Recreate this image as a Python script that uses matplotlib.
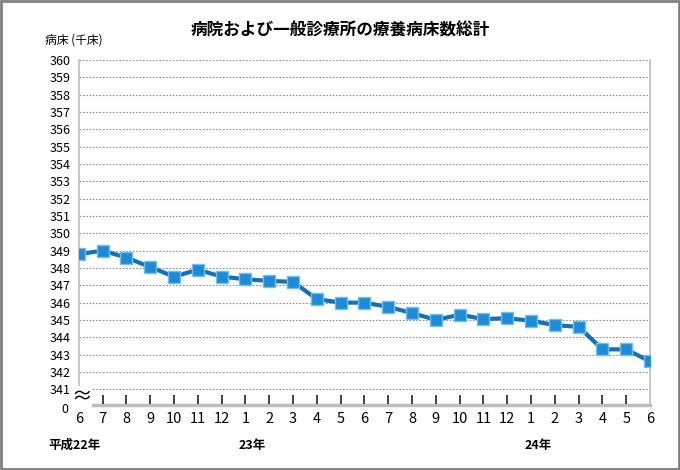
import numpy as np
import matplotlib.pyplot as plt
from matplotlib.patches import Rectangle

plt.rcParams['font.family'] = ['Noto Sans CJK JP', 'DejaVu Sans']

months = ['6', '7', '8', '9', '10', '11', '12', '1', '2', '3', '4', '5',
          '6', '7', '8', '9', '10', '11', '12', '1', '2', '3', '4', '5', '6']
beds = [348.8, 349.0, 348.6, 348.05, 347.5, 347.9, 347.5, 347.35, 347.25, 347.2,
        346.2, 346.0, 346.0, 345.75, 345.4, 345.0, 345.3, 345.05, 345.1, 344.95,
        344.7, 344.6, 343.3, 343.3, 342.6]
year_labels = ['平成22年', '23年', '24年']
year_pos = [-0.2, 7.3, 19.3]
yticks = list(range(341, 361))

fig = plt.figure(figsize=(6.8, 4.7), dpi=100)
ax = fig.add_axes([0.116, 0.138, 0.84, 0.734])

x = np.arange(len(beds))
ax.plot(x, beds, color='#1670b8', lw=3, zorder=3)
ax.plot(x, beds, 's', ms=8.5, mfc='#1e8bd8', mec='#6fc0ee', mew=1, zorder=4)

ax.set_xlim(0, len(beds) - 1)
ax.set_ylim(340.08, 360)
ax.set_yticks(yticks)
ax.set_yticklabels([str(v) for v in yticks], fontsize=9)
ax.set_xticks(x)
ax.set_xticklabels(months, fontsize=10.5)
ax.tick_params(axis='y', length=0, pad=6)
ax.tick_params(axis='x', length=0, pad=5)
ax.grid(axis='y', color='#8c8c8c', ls=(0, (1.5, 1.5)), lw=0.8)

ax.spines['top'].set_visible(False)
for s in ['left', 'right']:
    ax.spines[s].set_color('#bdbdbd')
    ax.spines[s].set_linewidth(1.2)
ax.spines['bottom'].set_color('#bdbdbd')
ax.spines['bottom'].set_linewidth(2.5)

# inward tick marks along the bottom axis
ax.vlines(x[1:-1], 0.004, 0.03, transform=ax.get_xaxis_transform(),
          colors='#222222', linewidths=1.2, zorder=6, clip_on=False)

# axis break mark and zero label
ax.text(0.12, 340.55, '≈', fontsize=15, ha='center', va='center', zorder=5,
        bbox=dict(facecolor='white', edgecolor='none', pad=0), clip_on=False)
ax.text(-0.45, 339.8, '0', fontsize=9, ha='right', va='center')

fig.text(0.5, 0.935, '病院および一般診療所の療養病床数総計', ha='center', va='center',
         fontsize=12, fontweight='bold')
fig.text(0.066, 0.915, '病床 (千床)', ha='left', va='center', fontsize=8.5)

for lab, p in zip(year_labels, year_pos):
    ax.text(p, 337.75, lab, ha='center', va='center', fontsize=9, fontweight='bold')

fig.patches.append(Rectangle((0.002, 0.003), 0.996, 0.994, transform=fig.transFigure,
                             fill=False, edgecolor='#808080', lw=2))

fig.savefig('out.png', dpi=100)
